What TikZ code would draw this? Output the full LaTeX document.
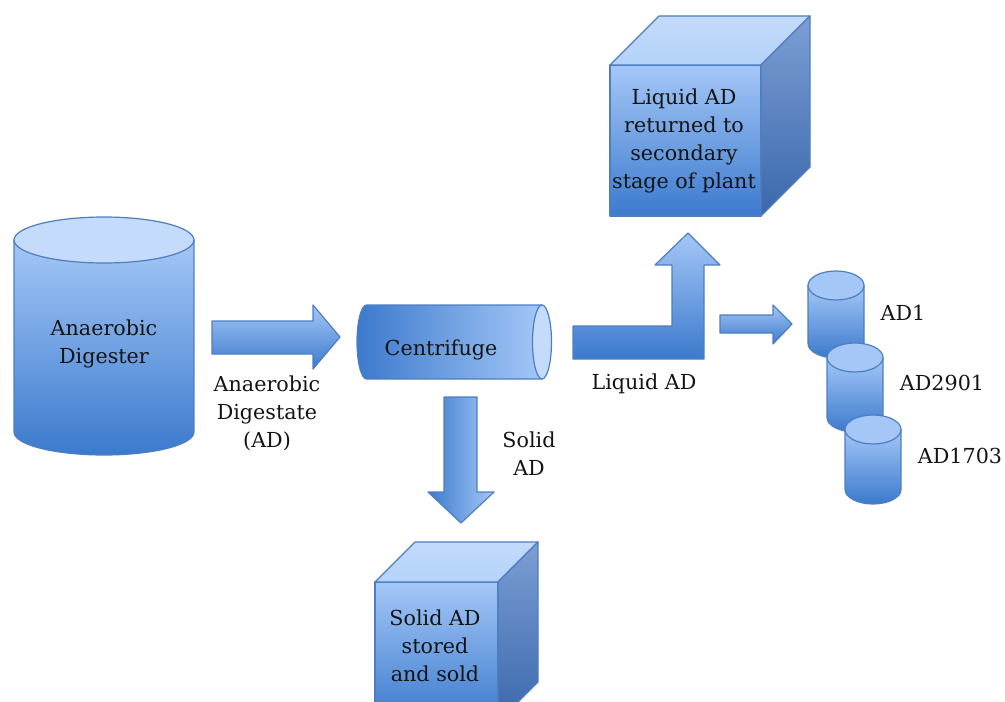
\documentclass[tikz,border=0pt]{standalone}
\usepackage{fontspec}
\setmainfont{DejaVu Serif}
\definecolor{lt}{RGB}{164,199,247}
\definecolor{dk}{RGB}{60,122,205}
\definecolor{endc}{RGB}{196,219,251}
\definecolor{edge}{RGB}{78,126,192}
\definecolor{topf}{RGB}{180,210,250}
\definecolor{sidelt}{RGB}{124,158,212}
\definecolor{sidedk}{RGB}{58,104,172}
\definecolor{txt}{RGB}{20,20,20}
\tikzset{
  vshade/.style={draw=edge, line width=0.9pt, top color=lt, bottom color=dk, line join=round},
  hshade/.style={draw=edge, line width=0.9pt, left color=dk, right color=lt, line join=round},
  endface/.style={draw=edge, line width=0.9pt, fill=endc},
  topface/.style={draw=edge, line width=0.9pt, top color=topf!80!white, bottom color=topf, line join=round},
  sideface/.style={draw=edge, line width=0.9pt, top color=sidelt, bottom color=sidedk, line join=round},
  lbl/.style={inner sep=0pt, align=center, text=txt, font=\fontsize{15.5}{21}\selectfont}
}
\begin{document}
\begin{tikzpicture}[x=0.75pt, y=-0.75pt]
\useasboundingbox (0,0) rectangle (1005,702);
\clip (0,0) rectangle (1005,702);
% big cylinder
\path[vshade] (14,240) -- (14,432) arc[start angle=180, end angle=0, x radius=90, y radius=23] -- (194,240) -- cycle;
\path[endface] (104,240) ellipse[x radius=90, y radius=23];
\node[lbl] (dig) at (104,344) {Anaerobic\\Digester};
% arrow 1
\path[vshade] (212,321) -- (313,321) -- (313,305) -- (340,337) -- (313,369) -- (313,354) -- (212,354) -- cycle;
\node[lbl] (adl) at (267,413) {Anaerobic\\Digestate\\(AD)};
% centrifuge
\path[hshade] (542,305) -- (366.5,305) arc[start angle=270, end angle=90, x radius=9.5, y radius=37] -- (542,379) -- cycle;
\path[endface] (542,342) ellipse[x radius=9.5, y radius=37];
\node[lbl] (cen) at (441,350) {Centrifuge};
% down arrow
\path[hshade] (444,397) -- (477,397) -- (477,492) -- (494,492) -- (461,523) -- (428,492) -- (444,492) -- cycle;
\node[lbl] (sol) at (529,454) {Solid\\AD};
% L arrow
\path[vshade] (573,326) -- (672,326) -- (672,265) -- (655,265) -- (688,233) -- (720,265) -- (704,265) -- (704,359) -- (573,359) -- cycle;
\node[lbl] (liq) at (644,384) {Liquid AD};
% small arrow
\path[vshade] (720,315) -- (773,315) -- (773,305) -- (792,324) -- (773,344) -- (773,333) -- (720,333) -- cycle;
% small cylinders
\path[vshade] (808,285.5) -- (808,343.5) arc[start angle=180, end angle=0, x radius=28, y radius=14.5] -- (864,285.5) -- cycle;
\path[endface, fill=lt] (836,285.5) ellipse[x radius=28, y radius=14.5];
\path[vshade] (827,357.5) -- (827,417.5) arc[start angle=180, end angle=0, x radius=28, y radius=14.5] -- (883,357.5) -- cycle;
\path[endface, fill=lt] (855,357.5) ellipse[x radius=28, y radius=14.5];
\path[vshade] (845,429.5) -- (845,489.5) arc[start angle=180, end angle=0, x radius=28, y radius=14.5] -- (901,429.5) -- cycle;
\path[endface, fill=lt] (873,429.5) ellipse[x radius=28, y radius=14.5];
\node[lbl] (a1) at (903,313) {AD1};
\node[lbl] (a2) at (942,383) {AD2901};
\node[lbl] (a3) at (960,456) {AD1703};
% top cube
\path[vshade] (610,65) rectangle (761,216);
\path[topface] (610,65) -- (659,16) -- (810,16) -- (761,65) -- cycle;
\path[sideface] (761,65) -- (810,16) -- (810,167) -- (761,216) -- cycle;
\node[lbl] (ret) at (684,140.5) {Liquid AD\\returned to\\secondary\\stage of plant};
% bottom cube
\path[vshade] (375,582) rectangle (498,722);
\path[topface] (375,582) -- (415,542) -- (538,542) -- (498,582) -- cycle;
\path[sideface] (498,582) -- (538,542) -- (538,682) -- (498,722) -- cycle;
\node[lbl] (sto) at (435,645.5) {Solid AD\\stored\\and sold};
\end{tikzpicture}
\end{document}
